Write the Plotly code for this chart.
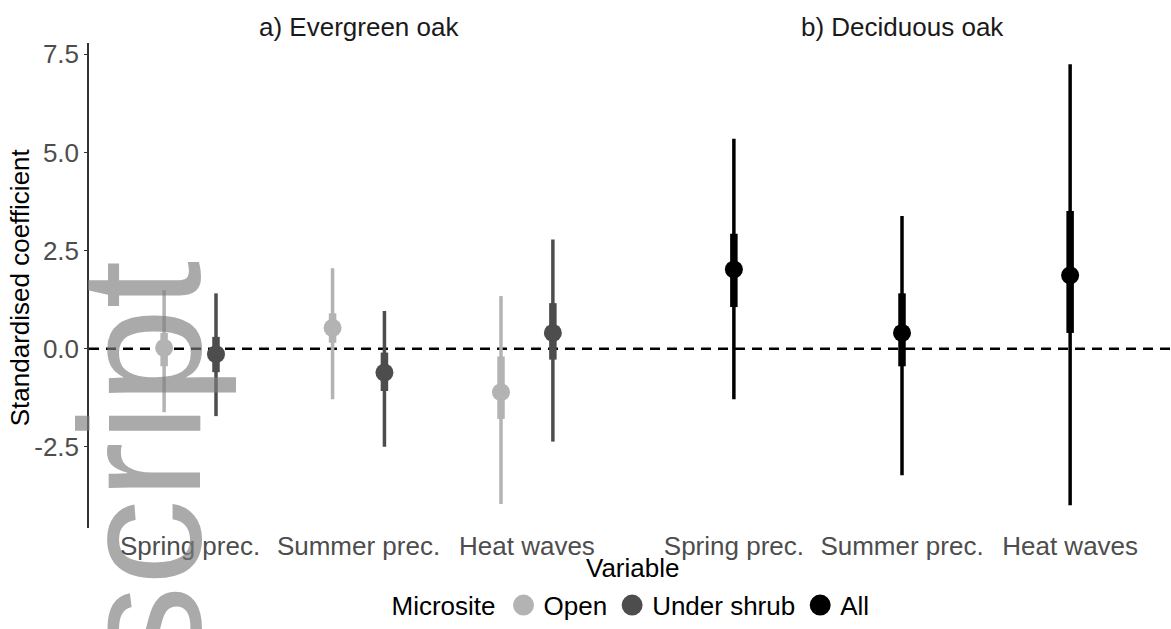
import plotly.graph_objects as go

# Standardised model coefficients per climate variable and microsite
variables = ["Spring prec.", "Summer prec.", "Heat waves"]

# a) Evergreen oak - open microsite
open_est = [0.02, 0.53, -1.11]
open_lo95 = [-1.62, -1.29, -3.96]
open_hi95 = [1.49, 2.05, 1.34]
open_lo50 = [-0.45, 0.15, -1.79]
open_hi50 = [0.40, 0.90, -0.20]

# a) Evergreen oak - under shrub
shrub_est = [-0.14, -0.61, 0.40]
shrub_lo95 = [-1.72, -2.50, -2.37]
shrub_hi95 = [1.41, 0.96, 2.78]
shrub_lo50 = [-0.60, -1.08, -0.28]
shrub_hi50 = [0.30, -0.10, 1.16]

# b) Deciduous oak - all microsites
all_est = [2.02, 0.40, 1.87]
all_lo95 = [-1.29, -3.23, -3.99]
all_hi95 = [5.35, 3.38, 7.25]
all_lo50 = [1.06, -0.45, 0.40]
all_hi50 = [2.93, 1.41, 3.51]

COL_OPEN = "#b3b3b3"
COL_SHRUB = "#4d4d4d"
COL_ALL = "#000000"
FONT = "Liberation Sans, Arial, sans-serif"

W, H = 1171, 629
PX = lambda x: x / W
PY = lambda y: 1 - y / H

fig = go.Figure()


def add_group(xaxis, yaxis, offset, est, lo95, hi95, lo50, hi50, color, thin, thick):
    xs = [i + offset for i in range(len(est))]
    thin_x, thin_y, thick_x, thick_y = [], [], [], []
    for x, a, b, c, d in zip(xs, lo95, hi95, lo50, hi50):
        thin_x += [x, x, None]
        thin_y += [a, b, None]
        thick_x += [x, x, None]
        thick_y += [c, d, None]
    common = dict(xaxis=xaxis, yaxis=yaxis, showlegend=False, hoverinfo="skip")
    fig.add_trace(go.Scatter(x=thin_x, y=thin_y, mode="lines",
                             line=dict(color=color, width=thin), **common))
    fig.add_trace(go.Scatter(x=thick_x, y=thick_y, mode="lines",
                             line=dict(color=color, width=thick), **common))
    fig.add_trace(go.Scatter(x=xs, y=est, mode="markers",
                             marker=dict(color=color, size=18), **common))


DODGE = 0.154
add_group("x", "y", -DODGE, open_est, open_lo95, open_hi95, open_lo50, open_hi50,
          COL_OPEN, 3.5, 7.5)
add_group("x", "y", DODGE, shrub_est, shrub_lo95, shrub_hi95, shrub_lo50, shrub_hi50,
          COL_SHRUB, 3.5, 7.5)
add_group("x2", "y2", 0.0, all_est, all_lo95, all_hi95, all_lo50, all_hi50,
          COL_ALL, 3.5, 7.5)

# legend entries
for name, col in [("Open", COL_OPEN), ("Under shrub", COL_SHRUB), ("All", COL_ALL)]:
    fig.add_trace(go.Scatter(x=[None], y=[None], mode="markers", name=name,
                             marker=dict(color=col, size=16,
                                         line=dict(color=col, width=5))))

yrange = [-4.57, 7.8]
ydom = [1 - 530 / H, 1 - 40 / H]
tickfont = dict(family=FONT, size=26, color="#4d4d4d")

fig.update_layout(
    width=W, height=H,
    margin=dict(l=0, r=0, t=0, b=0),
    paper_bgcolor="white", plot_bgcolor="white",
    font=dict(family=FONT, size=26, color="black"),
    xaxis=dict(domain=[PX(89), PX(628)], range=[-0.6, 2.6],
               tickvals=[0, 1, 2], ticktext=variables, tickfont=tickfont,
               showgrid=False, zeroline=False, showline=False, ticks=""),
    xaxis2=dict(domain=[PX(633), 1.0], range=[-0.6, 2.6],
                tickvals=[0, 1, 2], ticktext=variables, tickfont=tickfont,
                showgrid=False, zeroline=False, showline=False, ticks=""),
    yaxis=dict(domain=ydom, range=yrange, anchor="x",
               tickvals=[-2.5, 0, 2.5, 5, 7.5],
               ticktext=["-2.5", "0.0", "2.5", "5.0", "7.5"],
               tickfont=tickfont, showgrid=False, zeroline=False,
               showline=True, linecolor="#333333", linewidth=1.5,
               ticks="outside", ticklen=3, tickcolor="#333333"),
    yaxis2=dict(domain=ydom, range=yrange, anchor="x2", matches="y",
                showticklabels=False, showgrid=False, zeroline=False,
                showline=False, ticks=""),
    legend=dict(orientation="h", x=PX(632), xanchor="center",
                y=PY(608), yanchor="middle",
                title=dict(text="Microsite", side="left",
                           font=dict(family=FONT, size=26, color="black")),
                font=dict(family=FONT, size=26, color="black"),
                itemwidth=30, tracegroupgap=0),
)

# reference line at zero across both panels
for xr in ["x domain", "x2 domain"]:
    fig.add_shape(type="line", xref=xr, yref="y" if xr.startswith("x ") else "y2",
                  x0=0, x1=1, y0=0, y1=0, layer="below",
                  line=dict(color="black", width=2.5, dash="10px,7px"))

# panel titles
fig.add_annotation(text="a) Evergreen oak", xref="x", yref="paper", x=1, y=PY(24),
                   showarrow=False, font=dict(family=FONT, size=26, color="#1a1a1a"),
                   xanchor="center", yanchor="middle")
fig.add_annotation(text="b) Deciduous oak", xref="x2", yref="paper", x=1, y=PY(24),
                   showarrow=False, font=dict(family=FONT, size=26, color="#1a1a1a"),
                   xanchor="center", yanchor="middle")

# axis titles
fig.add_annotation(text="Variable", xref="paper", yref="paper", x=PX(632), y=PY(570),
                   showarrow=False, font=dict(family=FONT, size=26, color="black"),
                   xanchor="center", yanchor="middle")
fig.add_annotation(text="Standardised coefficient", xref="paper", yref="paper",
                   x=PX(20), y=PY(287), textangle=-90, showarrow=False,
                   font=dict(family=FONT, size=26, color="black"),
                   xanchor="center", yanchor="middle")

# overlay word
fig.add_annotation(text="script", xref="paper", yref="paper", x=PX(140), y=PY(468),
                   textangle=-90, showarrow=False,
                   font=dict(family=FONT, size=172, color="rgba(124,124,124,0.65)"),
                   xanchor="center", yanchor="middle")

fig.write_html("out.html")
